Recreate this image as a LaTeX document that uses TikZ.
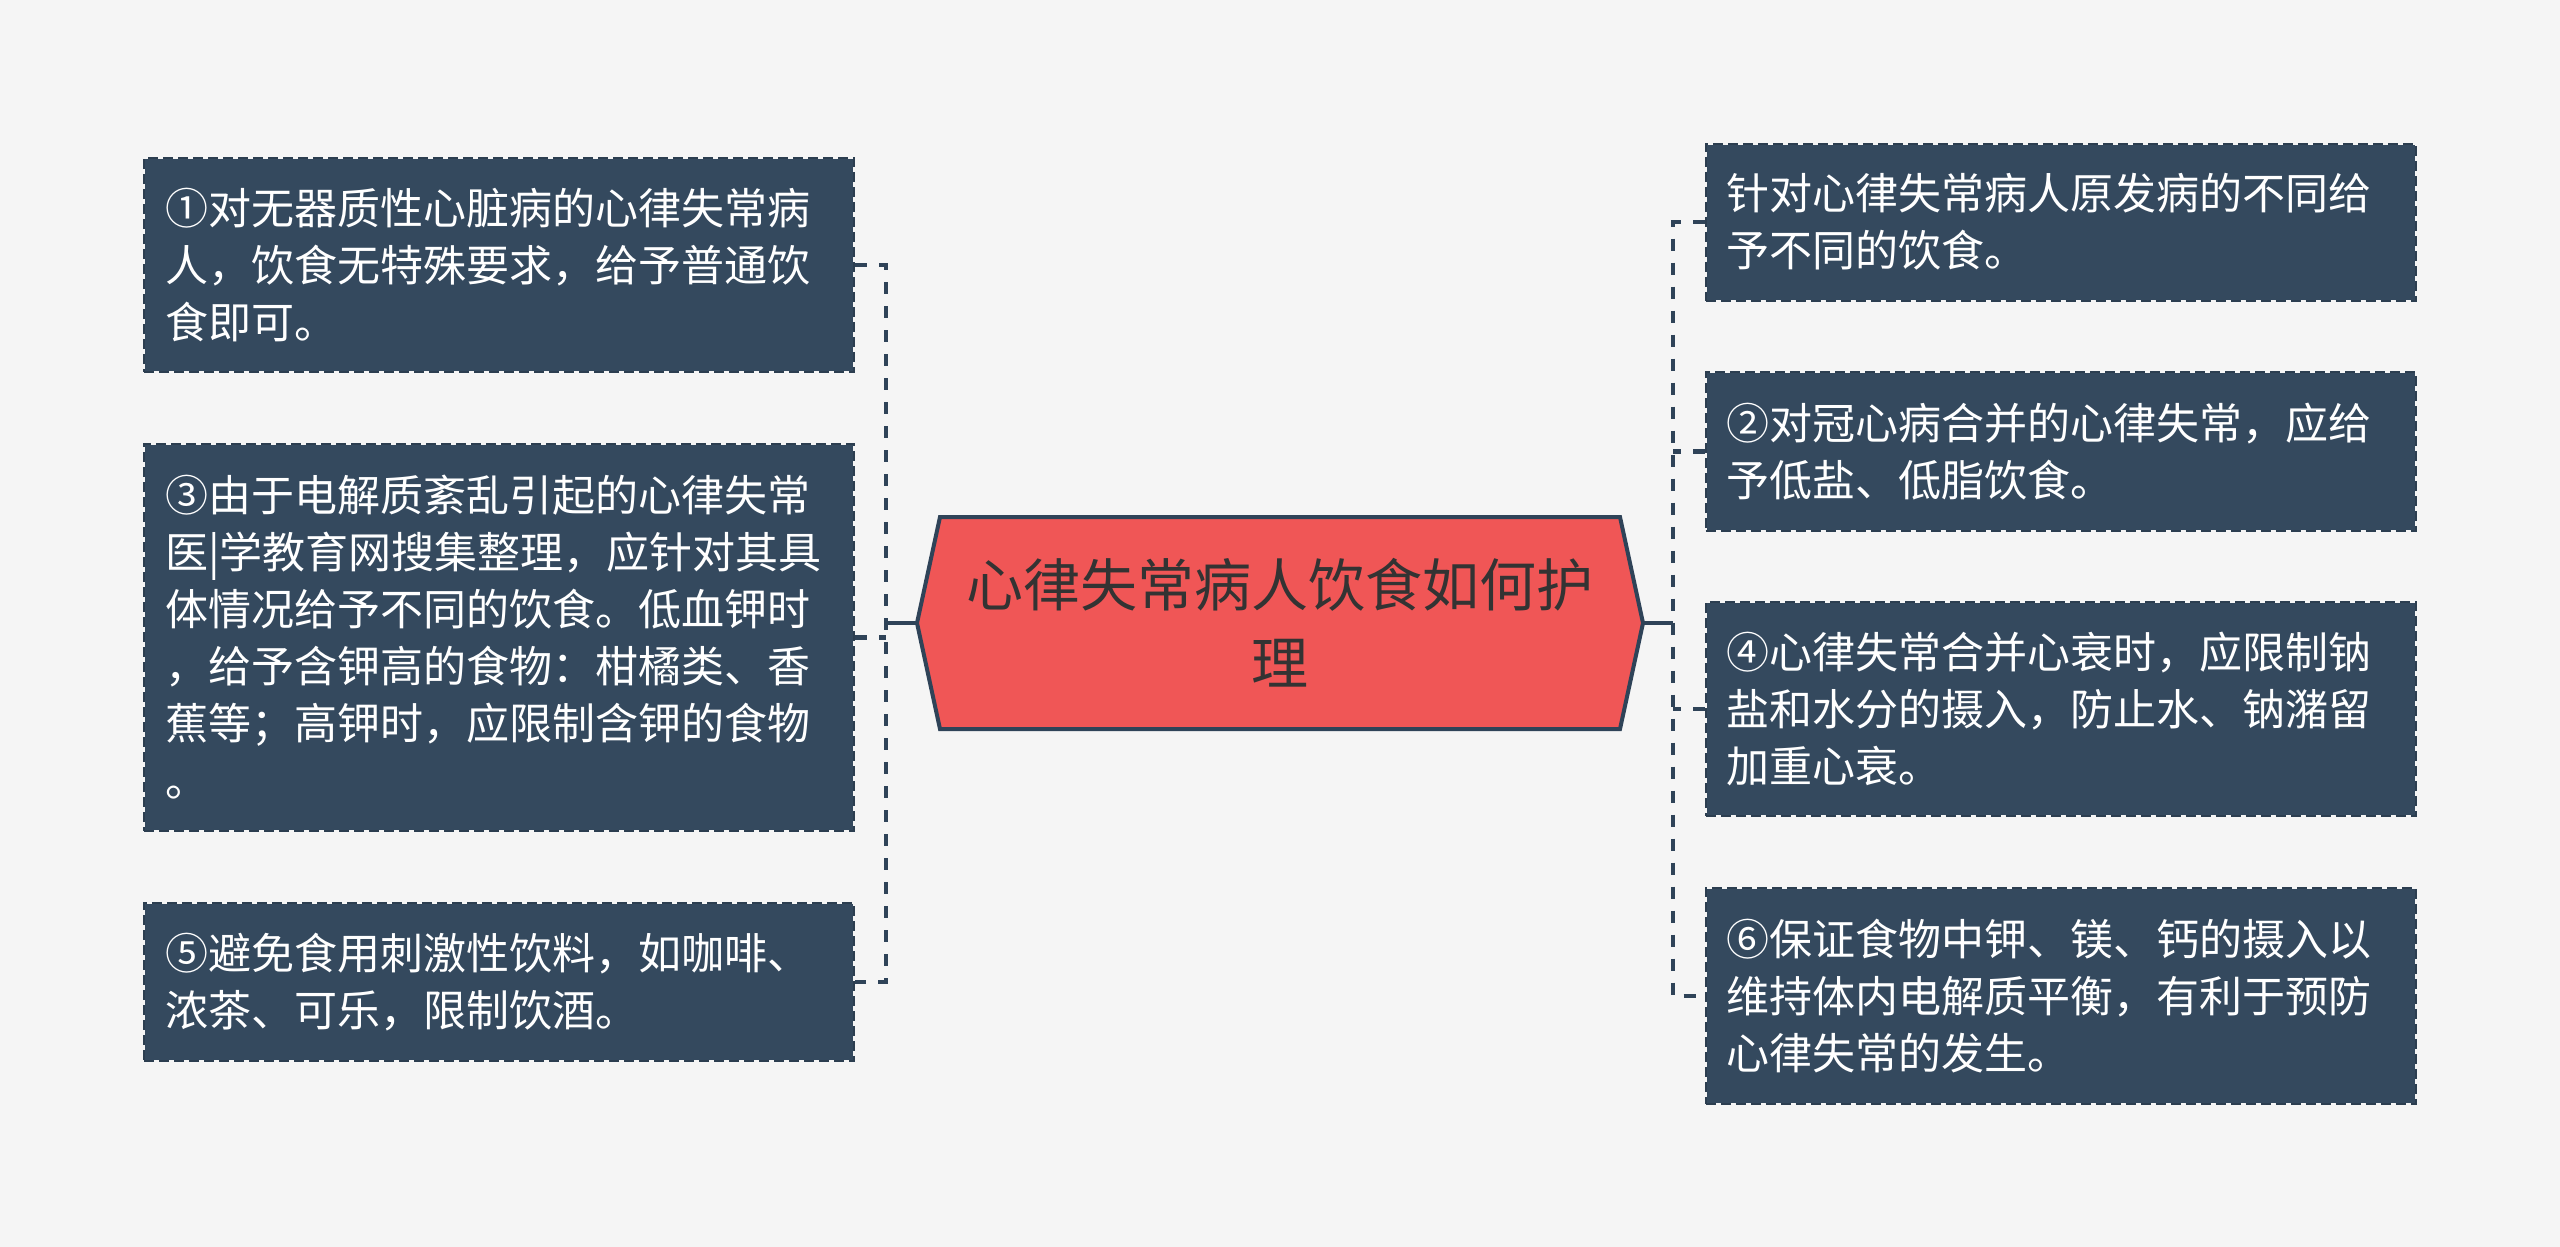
\documentclass[tikz,border=0pt]{standalone}
\usepackage{fontspec}
\setmainfont{Noto Sans CJK SC}
\definecolor{bg}{HTML}{F5F5F5}
\definecolor{boxfill}{HTML}{34495E}
\definecolor{boxline}{HTML}{2C3E50}
\definecolor{linkc}{HTML}{2F4358}
\definecolor{hexfill}{HTML}{F05656}
\definecolor{hextext}{HTML}{333333}
\tikzset{
  leafbox/.style={fill=boxfill, draw=bg, line width=2pt,
    postaction={draw=boxline, line width=2pt, dash pattern=on 10pt off 5pt},
    text=white, text width=668pt, align=left, inner xsep=21pt, inner ysep=0pt,
    font=\fontsize{43}{57}\selectfont},
  trunk/.style={draw=linkc, line width=4.5pt},
  branch/.style={draw=linkc, line width=4.5pt, dash pattern=on 12pt off 12pt},
}
\begin{document}
\begin{tikzpicture}[x=1pt,y=-1pt]
\useasboundingbox[fill=bg] (0,0) rectangle (2560,1247);
% central hexagon
\draw[fill=hexfill, draw=linkc, line width=4pt, line join=miter]
  (917,623) -- (940,517) -- (1620,517) -- (1643,623) -- (1620,729) -- (940,729) -- cycle;
\node[text=hextext, align=center, font=\fontsize{57}{78}\selectfont] (ctr) at (1280,623)
  {心律失常病人饮食如何护\\理};
\coordinate (cL) at (917,623);
\coordinate (cR) at (1643,623);
\coordinate (bL) at (886,623);
\coordinate (bR) at (1673,623);
% left boxes
\node[leafbox, minimum height=214pt] (L1) at (499,265)
  {①对无器质性心脏病的心律失常病\\人，饮食无特殊要求，给予普通饮\\食即可。};
\node[leafbox, minimum height=387pt] (L2) at (499,637.5)
  {③由于电解质紊乱引起的心律失常\\医|学教育网搜集整理，应针对其具\\体情况给予不同的饮食。低血钾时\\，给予含钾高的食物：柑橘类、香\\蕉等；高钾时，应限制含钾的食物\\。};
\node[leafbox, minimum height=158pt] (L3) at (499,982)
  {⑤避免食用刺激性饮料，如咖啡、\\浓茶、可乐，限制饮酒。};
% right boxes
\node[leafbox, minimum height=157pt] (R1) at (2060.5,222)
  {针对心律失常病人原发病的不同给\\予不同的饮食。};
\node[leafbox, minimum height=159pt] (R2) at (2060.5,451.5)
  {②对冠心病合并的心律失常，应给\\予低盐、低脂饮食。};
\node[leafbox, minimum height=214pt] (R3) at (2060.5,709)
  {④心律失常合并心衰时，应限制钠\\盐和水分的摄入，防止水、钠潴留\\加重心衰。};
\node[leafbox, minimum height=216pt] (R4) at (2060.5,996)
  {⑥保证食物中钾、镁、钙的摄入以\\维持体内电解质平衡，有利于预防\\心律失常的发生。};
% connectors
\draw[trunk] (cL) -- (bL);
\draw[trunk] (cR) -- (bR);
\draw[branch] (L1.east) -- (L1.east -| bL) -- (L3.east -| bL) -- (L3.east);
\draw[branch] (L2.east) -- (L2.east -| bL);
\draw[branch] (R1.west) -- (R1.west -| bR) -- (R4.west -| bR) -- (R4.west);
\draw[branch] (R2.west) -- (R2.west -| bR);
\draw[branch] (R3.west) -- (R3.west -| bR);
\end{tikzpicture}
\end{document}
